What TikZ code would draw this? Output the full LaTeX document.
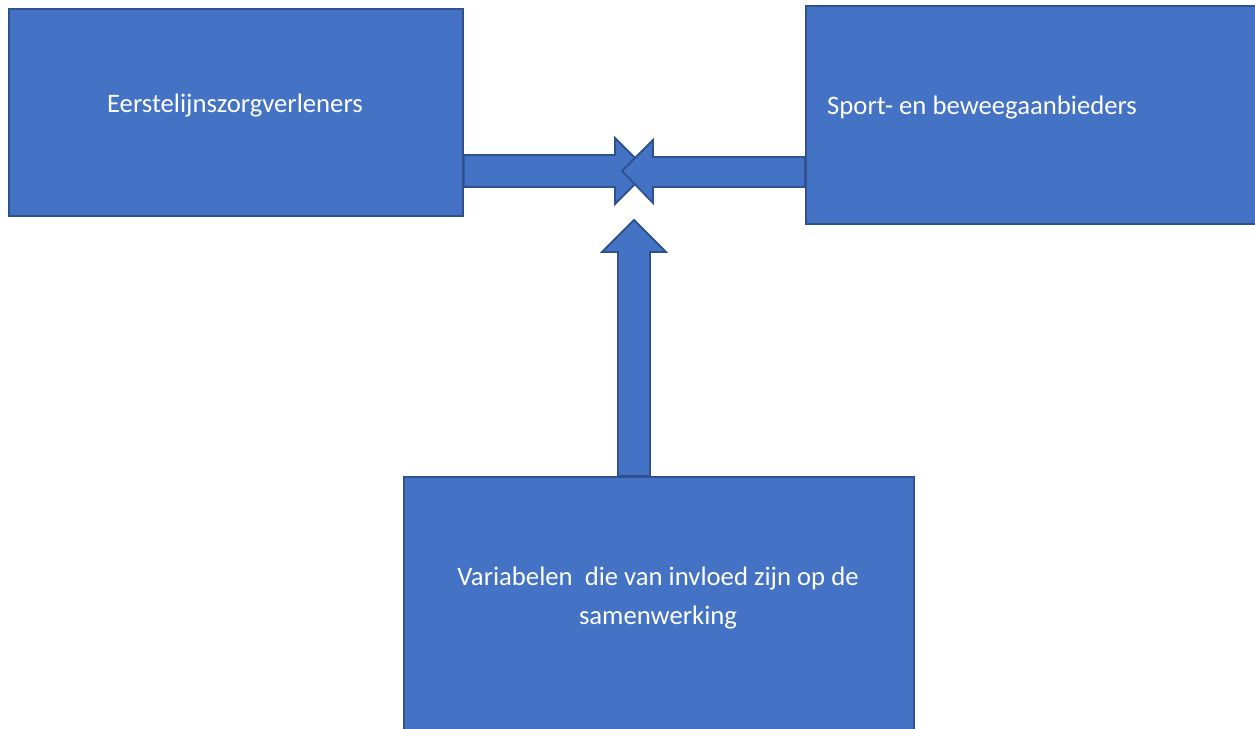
\documentclass[tikz,border=0pt]{standalone}
\usepackage{fontspec}
\setmainfont{Carlito}
\usetikzlibrary{calc}
\definecolor{boxfill}{HTML}{4472C4}
\definecolor{boxline}{HTML}{2F528F}
\tikzset{
  box/.style={draw=boxline, fill=boxfill, line width=1.8pt, rectangle, inner sep=0pt},
  blockarrow/.style={draw=boxline, fill=boxfill, line width=1.8pt, line join=miter},
  lbl/.style={text=white, font=\fontsize{26.7}{39}\selectfont, inner sep=0pt},
}
\begin{document}
\begin{tikzpicture}[x=1pt, y=-1pt]
  \useasboundingbox (0,0) rectangle (1255,728);
  \clip (0,0) rectangle (1255,728);

  % the three blocks
  \node[box, minimum width=454pt, minimum height=207pt, anchor=north west] (zorg) at (8,8) {};
  \node[box, minimum width=520pt, minimum height=218pt, anchor=north west] (sport) at (805,5) {};
  \node[box, minimum width=510pt, minimum height=300pt, anchor=north west] (var) at (403,476) {};

  \node[lbl] (zorgtxt) at (235,106) {Eerstelijnszorgverleners};
  \node[lbl, anchor=west] (sporttxt) at (827,108) {Sport- en beweegaanbieders};
  \node[lbl, align=center] (vartxt) at (658,598) {Variabelen\ \ die van invloed zijn op de\\samenwerking};

  % meeting point of the three arrows
  \coordinate (meet) at (634,171);

  % block arrow from the care providers to the meeting point
  \draw[blockarrow]
    (zorg.east |- 0,155) -- (615,155) -- (615,138) -- (648,171)
    -- (615,204) -- (615,187) -- (zorg.east |- 0,187) -- cycle;

  % block arrow from the sport providers to the meeting point
  \draw[blockarrow]
    (sport.west |- 0,157) -- (653,157) -- (653,140) -- (622,171)
    -- (653,203) -- (653,187) -- (sport.west |- 0,187) -- cycle;

  % block arrow rising from the variables block
  \draw[blockarrow]
    (618,0 |- var.north) -- (618,252) -- (602,252) -- (634,220)
    -- (666,252) -- (650,252) -- (650,0 |- var.north) -- cycle;
\end{tikzpicture}
\end{document}
